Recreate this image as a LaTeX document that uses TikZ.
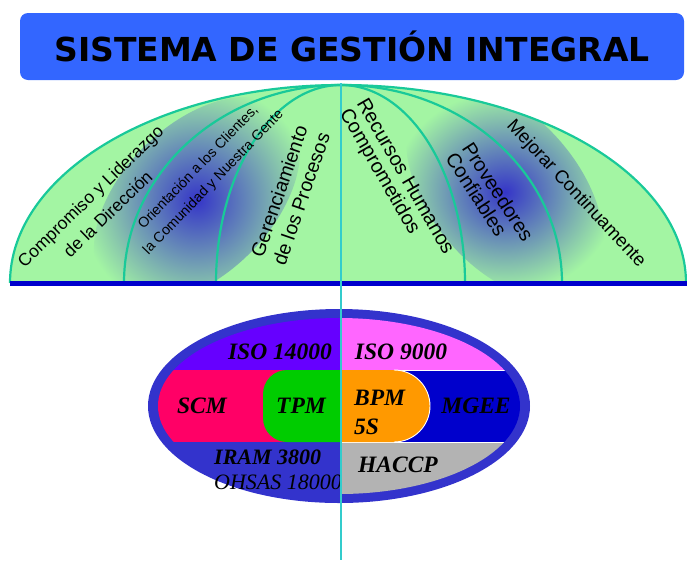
\documentclass[tikz,border=0pt]{standalone}
\usepackage{fontspec}
\setmainfont{Liberation Serif}
\newfontfamily\domefont{Liberation Sans}
\newfontfamily\titlefont{DejaVu Sans}
\definecolor{titleblue}{HTML}{3366FF}
\definecolor{domegreen}{HTML}{A3F5A3}
\definecolor{glowblue}{HTML}{3535C8}
\definecolor{meridian}{HTML}{19C999}
\definecolor{baseblue}{HTML}{0000CC}
\definecolor{axiscyan}{HTML}{33CCCC}
\definecolor{ringblue}{HTML}{3333CC}
\definecolor{isoviolet}{HTML}{6600FF}
\definecolor{isopink}{HTML}{FF66FF}
\definecolor{scmred}{HTML}{FF0066}
\definecolor{tpmgreen}{HTML}{00CC00}
\definecolor{bpmorange}{HTML}{FF9900}
\definecolor{mgeeblue}{HTML}{0000CC}
\definecolor{haccpgrey}{HTML}{B3B3B3}
\tikzset{
  pillar/.style={align=center,inner sep=0pt},
  badge/.style={font=\bfseries\itshape\fontsize{23.5}{28}\selectfont,inner sep=0pt,align=left},
  merid/.style={draw=meridian,line width=2.2pt},
  seam/.style={draw=white,line width=0.9pt}
}

\begin{document}
\begin{tikzpicture}[x=1pt,y=-1pt]
  \useasboundingbox (0,0) rectangle (687,560);
  \node[fill=titleblue,rounded corners=8pt,minimum width=664pt,minimum height=67pt,
    font=\titlefont\bfseries\fontsize{33}{36}\selectfont] (banner) at (352,46.5)
    {SISTEMA DE GESTIÓN INTEGRAL};

  % dome
  \fill[domegreen] (10,283) arc[start angle=180,end angle=270,x radius=331,y radius=198]
    arc[start angle=270,end angle=360,x radius=345,y radius=198] -- cycle;
  \begin{scope}
    \clip (10,283) arc[start angle=180,end angle=270,x radius=331,y radius=198]
      arc[start angle=270,end angle=360,x radius=345,y radius=198] -- cycle;
    \begin{scope}[shift={(197,200)},rotate=45]
      \shade[inner color=glowblue,outer color=domegreen] (0,0) ellipse (125 and 75);
    \end{scope}
    \begin{scope}[shift={(505,192)},rotate=-50]
      \shade[inner color=glowblue,outer color=domegreen] (0,0) ellipse (125 and 75);
    \end{scope}
  \end{scope}
  \draw[merid] (124,283) arc[start angle=180,end angle=270,x radius=217,y radius=198];
  \draw[merid] (216,283) arc[start angle=180,end angle=270,x radius=125,y radius=198];
  \draw[merid] (341,85) arc[start angle=270,end angle=360,x radius=124,y radius=198];
  \draw[merid] (341,85) arc[start angle=270,end angle=360,x radius=221,y radius=198];
  \draw[merid] (10,283) arc[start angle=180,end angle=270,x radius=331,y radius=198]
    arc[start angle=270,end angle=360,x radius=345,y radius=198];
  \draw[baseblue,line width=5pt] (10,283) -- (687,283);

  \node[pillar,rotate=44,font=\domefont\fontsize{17.5}{25}\selectfont] (leadership) at (99,205)
    {Compromiso y Liderazgo\\de la Dirección};
  \node[pillar,rotate=46,font=\domefont\fontsize{14.2}{21}\selectfont] (customers) at (206,175)
    {Orientación a los Clientes,\\la Comunidad y Nuestra Gente};
  \node[pillar,rotate=71,font=\domefont\fontsize{19.5}{23.5}\selectfont] (processes) at (290,195)
    {Gerenciamiento\\de los Procesos};
  \node[pillar,rotate=-60,align=left,font=\domefont\fontsize{20}{19.5}\selectfont] (people) at (396,182)
    {Recursos Humanos\\Comprometidos};
  \node[pillar,rotate=-57,align=left,font=\domefont\fontsize{20}{19.5}\selectfont] (suppliers) at (490,197)
    {Proveedores\\Confiables};
  \node[pillar,rotate=-47,font=\domefont\fontsize{18.6}{22}\selectfont] (improvement) at (576,194)
    {Mejorar Continuamente};

  % standards ellipse
  \fill[ringblue] (339,406) ellipse (191 and 97);
  \begin{scope}
    \clip (339,406) ellipse (181 and 88);
    \fill[isoviolet] (150,310) rectangle (341,370);
    \fill[scmred] (150,370) rectangle (341,442);
    \fill[tpmgreen,rounded corners=24pt] (263,370) rectangle (380,442);
    \fill[isopink] (341,310) rectangle (530,370);
    \fill[mgeeblue] (341,370) rectangle (530,442);
    \fill[haccpgrey] (341,442) rectangle (530,500);
    \draw[seam] (394,370) -- (530,370);
    \draw[seam] (341,442) -- (530,442);
    \fill[bpmorange] (341,370) -- (394,370) arc[start angle=-90,end angle=90,radius=36] -- (341,442) -- cycle;
    \draw[seam] (394,370) arc[start angle=-90,end angle=90,radius=36];
  \end{scope}

  \node[badge] (iso14) at (280,352) {ISO 14000};
  \node[badge] (iso9) at (401,352) {ISO 9000};
  \node[badge] (scm) at (202,406) {SCM};
  \node[badge] (tpm) at (301,406) {TPM};
  \node[badge,anchor=west,font=\bfseries\itshape\fontsize{23.5}{29}\selectfont] (bpm) at (354,412) {BPM\\5S};
  \node[badge] (mgee) at (476,406) {MGEE};
  \node[badge,anchor=west,font=\bfseries\itshape\fontsize{22}{26}\selectfont] (iram) at (214,457) {IRAM 3800};
  \node[badge,anchor=west,font=\itshape\fontsize{22}{26}\selectfont] (ohsas) at (214,482) {OHSAS 18000};
  \node[badge] (haccp) at (398,465) {HACCP};

  \coordinate (apex) at (341,83);
  \coordinate (foot) at (341,560);
  \draw[axiscyan,line width=1.6pt] (apex) -- (foot);
\end{tikzpicture}
\end{document}
